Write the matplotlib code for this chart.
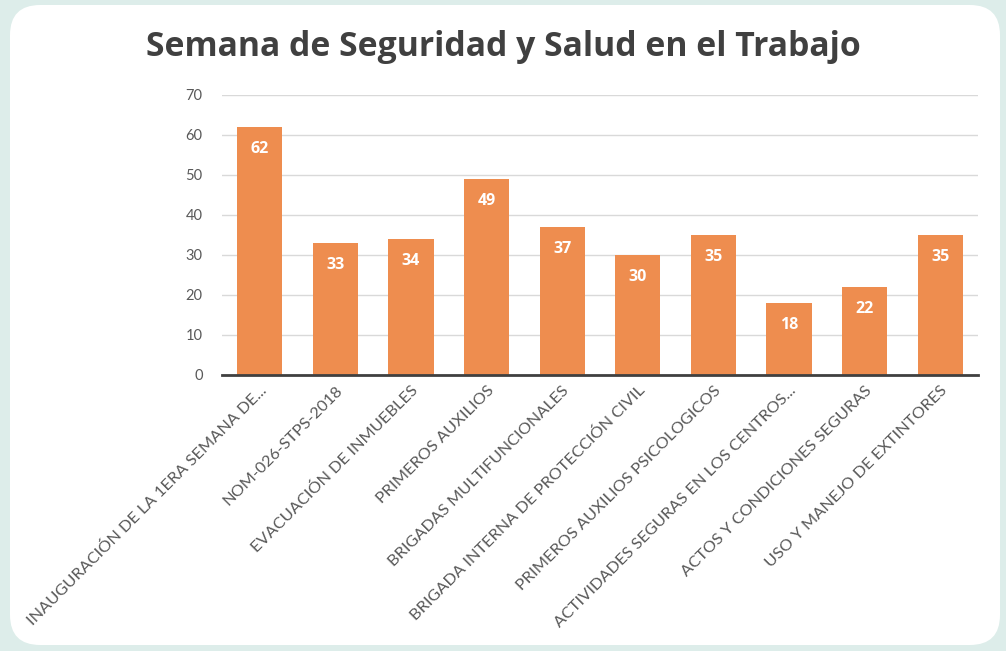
import matplotlib
matplotlib.use("Agg")
import matplotlib.pyplot as plt
from matplotlib.patches import FancyBboxPatch

categories = [
    "INAUGURACIÓN DE LA 1ERA SEMANA DE...",
    "NOM-026-STPS-2018",
    "EVACUACIÓN DE INMUEBLES",
    "PRIMEROS AUXILIOS",
    "BRIGADAS MULTIFUNCIONALES",
    "BRIGADA INTERNA DE PROTECCIÓN CIVIL",
    "PRIMEROS AUXILIOS PSICOLOGICOS",
    "ACTIVIDADES SEGURAS EN LOS CENTROS...",
    "ACTOS Y CONDICIONES SEGURAS",
    "USO Y MANEJO DE EXTINTORES",
]
values = [62, 33, 34, 49, 37, 30, 35, 18, 22, 35]
yticks = [0, 10, 20, 30, 40, 50, 60, 70]
title = "Semana de Seguridad y Salud en el Trabajo"

fig = plt.figure(figsize=(10.06, 6.51), dpi=100)
fig.patch.set_facecolor("#DDEDEA")
card = FancyBboxPatch((10/1006, 6/651), 990/1006, 640/651,
                      boxstyle="round,pad=0,rounding_size=0.03",
                      transform=fig.transFigure, facecolor="white",
                      edgecolor="none", mutation_aspect=1006/651, zorder=-5)
fig.add_artist(card)

ax = fig.add_axes([222/1006, 1-375/651, 756/1006, 280/651])
ax.set_zorder(2)
ax.set_facecolor("none")
x = range(len(categories))
ax.bar(x, values, width=0.6, color="#EE8D4F", zorder=3)
ax.set_xlim(-0.5, len(categories)-0.5)
ax.set_ylim(0, 70)
ax.set_yticks(yticks)
ax.yaxis.grid(True, color="#D9D9D9", linewidth=1, zorder=0)
ax.set_axisbelow(True)
for s in ["top", "right", "left"]:
    ax.spines[s].set_visible(False)
ax.spines["bottom"].set_color("#404040")
ax.spines["bottom"].set_linewidth(2)
ax.spines["bottom"].set_zorder(4)
ax.tick_params(axis="y", length=0, labelsize=10.5, labelcolor="#595959", pad=14)
ax.tick_params(axis="x", length=0, labelsize=11.8, labelcolor="#595959", pad=6)
ax.set_xticks(list(x))
ax.set_xticklabels(categories, rotation=45, ha="right", va="top",
                   rotation_mode="anchor", fontfamily="Lato")
for lbl in ax.get_yticklabels():
    lbl.set_fontfamily("Lato")
for i, v in enumerate(values):
    ax.text(i, v - 5.6, str(v), ha="center", va="center", color="white",
            fontsize=11.5, fontweight="bold", fontfamily="Open Sans", zorder=5)

fig.text(503/1006, 1-47/651, title, ha="center", va="center",
         fontsize=24.3, fontweight="bold", color="#404040", fontfamily="Open Sans")

fig.savefig("out.png", dpi=100, facecolor=fig.get_facecolor())
